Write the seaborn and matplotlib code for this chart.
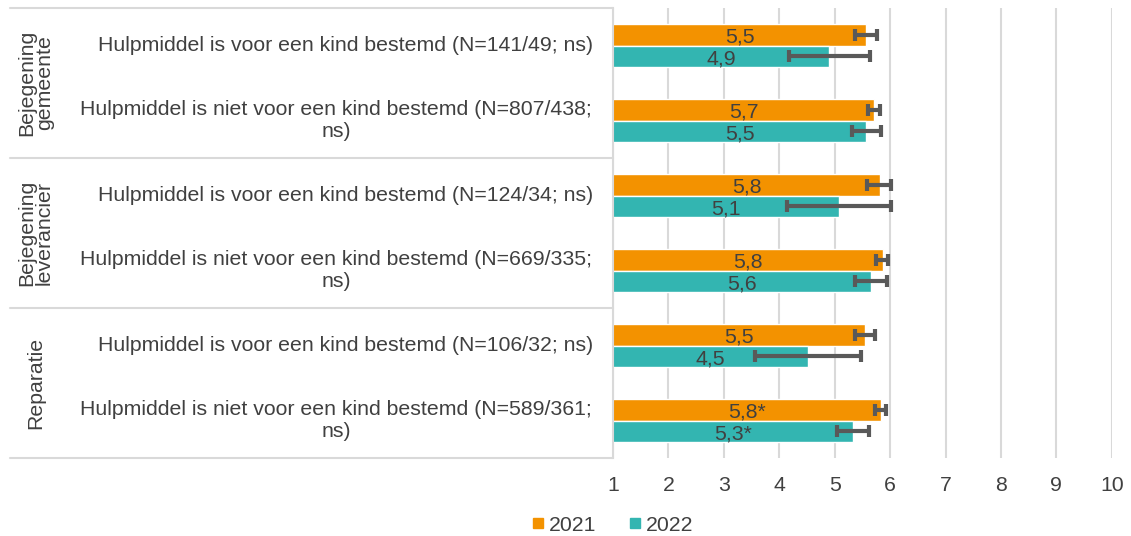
import pandas as pd
import seaborn as sns
import matplotlib.pyplot as plt
from matplotlib import transforms
from matplotlib.lines import Line2D

# data
groups = ["Bejegening\ngemeente", "Bejegening\nleverancier", "Reparatie"]
categories = [
    "Hulpmiddel is voor een kind bestemd (N=141/49; ns)",
    "Hulpmiddel is niet voor een kind bestemd (N=807/438;\nns)",
    "Hulpmiddel is voor een kind bestemd (N=124/34; ns)",
    "Hulpmiddel is niet voor een kind bestemd (N=669/335;\nns)",
    "Hulpmiddel is voor een kind bestemd (N=106/32; ns)",
    "Hulpmiddel is niet voor een kind bestemd (N=589/361;\nns)",
]
years = ["2021", "2022"]
val_2021 = [5.57, 5.71, 5.82, 5.87, 5.55, 5.84]
val_2022 = [4.90, 5.57, 5.07, 5.65, 4.51, 5.33]
lo_2021 = [5.37, 5.60, 5.58, 5.75, 5.36, 5.73]
hi_2021 = [5.77, 5.81, 6.02, 5.96, 5.73, 5.92]
lo_2022 = [4.17, 5.31, 4.14, 5.37, 3.56, 5.04]
hi_2022 = [5.64, 5.83, 6.02, 5.94, 5.48, 5.62]
lab_2021 = ["5,5", "5,7", "5,8", "5,8", "5,5", "5,8*"]
lab_2022 = ["4,9", "5,5", "5,1", "5,6", "4,5", "5,3*"]
x_ticks = [1, 2, 3, 4, 5, 6, 7, 8, 9, 10]

colors = {"2021": "#F39200", "2022": "#33B5B1"}
text_col = "#404040"
line_col = "#D9D9D9"
fs = 15.3

df = pd.DataFrame({
    "cat": categories * 2,
    "year": ["2021"] * 6 + ["2022"] * 6,
    "value": val_2021 + val_2022,
})

sns.set_theme(style="white")
plt.rcParams["font.family"] = ["Liberation Sans", "DejaVu Sans"]

fig = plt.figure(figsize=(11.31, 5.36), dpi=100)
ax = fig.add_axes([0.542, 0.1455, 0.441, 0.8395])

sns.barplot(data=df, y="cat", x="value", hue="year", orient="h", palette=colors,
            width=0.58, errorbar=None, legend=False, ax=ax, saturation=1)

ax.set_xlim(1, 10)
ax.set_ylim(5.5, -0.5)
ax.set_xticks(x_ticks)
ax.set_xticklabels([str(t) for t in x_ticks], fontsize=fs, color=text_col)
ax.tick_params(axis="x", length=0, pad=13)
ax.set_yticks([])
ax.set_xlabel("")
ax.set_ylabel("")
ax.grid(axis="x", color=line_col, linewidth=1.5)
ax.set_axisbelow(True)
for s in ["top", "right", "bottom"]:
    ax.spines[s].set_visible(False)
ax.spines["left"].set_color(line_col)
ax.spines["left"].set_linewidth(1.5)

series = [(val_2021, lo_2021, hi_2021, lab_2021), (val_2022, lo_2022, hi_2022, lab_2022)]
for cont, (vals, lo, hi, labs) in zip(ax.containers, series):
    for bar, v, l, h, lab in zip(cont, vals, lo, hi, labs):
        yc = bar.get_y() + bar.get_height() / 2
        ax.errorbar(v, yc, xerr=[[v - l], [h - v]], fmt="none", ecolor="#595959",
                    elinewidth=3, capsize=4.5, capthick=3, zorder=5)
        ax.text((1 + v) / 2, yc + 0.03, lab, ha="center", va="center",
                fontsize=fs, color=text_col, zorder=6)

trans = transforms.blended_transform_factory(ax.transAxes, ax.transData)
for i, c in enumerate(categories):
    xc = -0.555 if "\n" in c else -0.537
    ax.text(xc, i, c, transform=trans, ha="center", va="center",
            multialignment="center", fontsize=fs, color=text_col, clip_on=False)
for g, name in enumerate(groups):
    ax.text(-1.158, 2 * g + 0.5, name, transform=trans, ha="center", va="center",
            rotation=90, multialignment="center", fontsize=fs, color=text_col,
            linespacing=0.95, clip_on=False)
for yb in [-0.5, 1.5, 3.5, 5.5]:
    ax.plot([-1.208, 0], [yb, yb], transform=trans, color=line_col,
            linewidth=1.5, clip_on=False)

handles = [Line2D([], [], marker="s", linestyle="none", markersize=7.5,
                  markerfacecolor=colors[y], markeredgecolor=colors[y]) for y in years]
fig.legend(handles, years, loc="center", bbox_to_anchor=(0.541, 0.02), ncol=2,
           frameon=False, fontsize=fs, handlelength=0.7, handletextpad=0.15,
           columnspacing=1.5, labelcolor=text_col)

fig.savefig("out.png", dpi=100)
